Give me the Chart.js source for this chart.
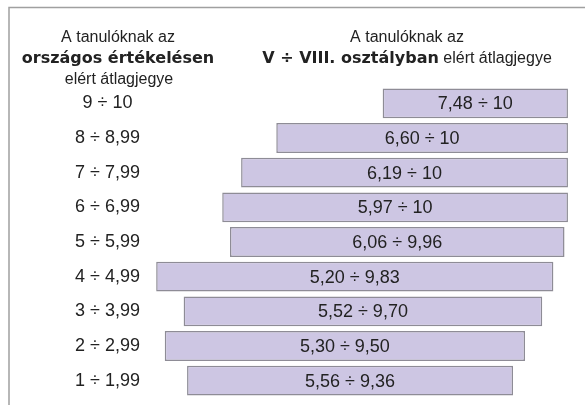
<!DOCTYPE html>
<html>
<head>
<meta charset="utf-8">
<script src="https://cdn.jsdelivr.net/npm/chart.js@4"></script>
<style>
  body { margin: 0; background: #fff; }
  #stat { display: block; }
</style>
</head>
<body>
<canvas id="stat" width="585" height="405"></canvas>
<script>
// grade bands from the national assessment (y categories)
const grades = ["9 ÷ 10", "8 ÷ 8,99", "7 ÷ 7,99", "6 ÷ 6,99", "5 ÷ 5,99", "4 ÷ 4,99", "3 ÷ 3,99", "2 ÷ 2,99", "1 ÷ 1,99"];
// school averages, lower and upper end of each bar (first bar is drawn from ~7,84 in the picture)
const lowAvg = [7.84, 6.60, 6.19, 5.97, 6.06, 5.20, 5.52, 5.30, 5.56];
const highAvg = [10, 10, 10, 10, 9.96, 9.83, 9.70, 9.50, 9.36];
// texts written inside the bars
const rangeLabels = ["7,48 ÷ 10", "6,60 ÷ 10", "6,19 ÷ 10", "5,97 ÷ 10", "6,06 ÷ 9,96", "5,20 ÷ 9,83", "5,52 ÷ 9,70", "5,30 ÷ 9,50", "5,56 ÷ 9,36"];

const leftHead = ["A tanulóknak az", "országos értékelésen", "elért átlagjegye"];
const rightHead = ["A tanulóknak az", "V ÷ VIII. osztályban", " elért átlagjegye"];

const regular = "16px 'Liberation Sans', Arial, sans-serif";
const bold = "bold 16px 'DejaVu Sans', Verdana, sans-serif";

// frame + headers + text in bars
const decorations = {
  id: "decorations",
  beforeDraw(chart) {
    const c = chart.ctx;
    c.save();
    c.strokeStyle = "#a0a0a0";
    c.lineWidth = 1.5;
    c.beginPath();
    c.moveTo(9, 405);
    c.lineTo(9, 7.5);
    c.lineTo(585, 7.5);
    c.stroke();
    c.restore();
  },
  afterDraw(chart) {
    const c = chart.ctx;
    c.save();
    c.fillStyle = "#222";
    c.textBaseline = "alphabetic";
    c.textAlign = "center";

    c.font = regular;
    c.fillText(leftHead[0], 118, 42);
    c.font = bold;
    c.fillText(leftHead[1], 118, 63);
    c.font = regular;
    c.fillText(leftHead[2], 119, 84);

    c.font = regular;
    c.fillText(rightHead[0], 407, 42);

    c.font = bold;
    const w1 = c.measureText(rightHead[1]).width;
    c.font = regular;
    const w2 = c.measureText(rightHead[2]).width;
    const startX = 407 - (w1 + w2) / 2;
    c.textAlign = "left";
    c.font = bold;
    c.fillText(rightHead[1], startX, 63);
    c.font = regular;
    c.fillText(rightHead[2], startX + w1, 63);

    // labels inside bars
    c.textAlign = "center";
    c.textBaseline = "middle";
    c.font = "18px 'Liberation Sans', Arial, sans-serif";
    const meta = chart.getDatasetMeta(0);
    meta.data.forEach((bar, i) => {
      const mid = (bar.x + bar.base) / 2;
      c.fillText(rangeLabels[i], mid, bar.y + 1);
    });
    c.restore();
  }
};

const ctx = document.querySelector("#stat").getContext("2d");

const chartData = {
  labels: grades,
  datasets: [
    {
      label: "átlagjegy",
      data: lowAvg.map((low, i) => [low, highAvg[i]]),
      backgroundColor: "#cdc6e3",
      borderColor: "#8e8c96",
      borderWidth: 1.5,
      borderSkipped: false,
      categoryPercentage: 1,
      barPercentage: 0.86,
    },
  ],
};

const options = {
  indexAxis: "y",
  responsive: false,
  animation: false,
  devicePixelRatio: 1,
  layout: {
    padding: { left: 64, right: 7, top: 86, bottom: 7 },
  },
  plugins: {
    legend: { display: false },
    tooltip: { enabled: false },
  },
  scales: {
    x: {
      display: false,
      min: 5.128,
      max: 10.117,
    },
    y: {
      grid: { display: false, drawTicks: false },
      border: { display: false },
      ticks: {
        crossAlign: "center",
        padding: 10,
        color: "#222",
        font: { family: "'Liberation Sans', Arial, sans-serif", size: 18 },
      },
      afterFit(scale) {
        scale.width = 86;
        scale.paddingTop = 0;
        scale.paddingBottom = 0;
      },
    },
  },
};

const chart = new Chart(ctx, {
  type: "bar",
  data: chartData,
  options: options,
  plugins: [decorations],
});
</script>
</body>
</html>
